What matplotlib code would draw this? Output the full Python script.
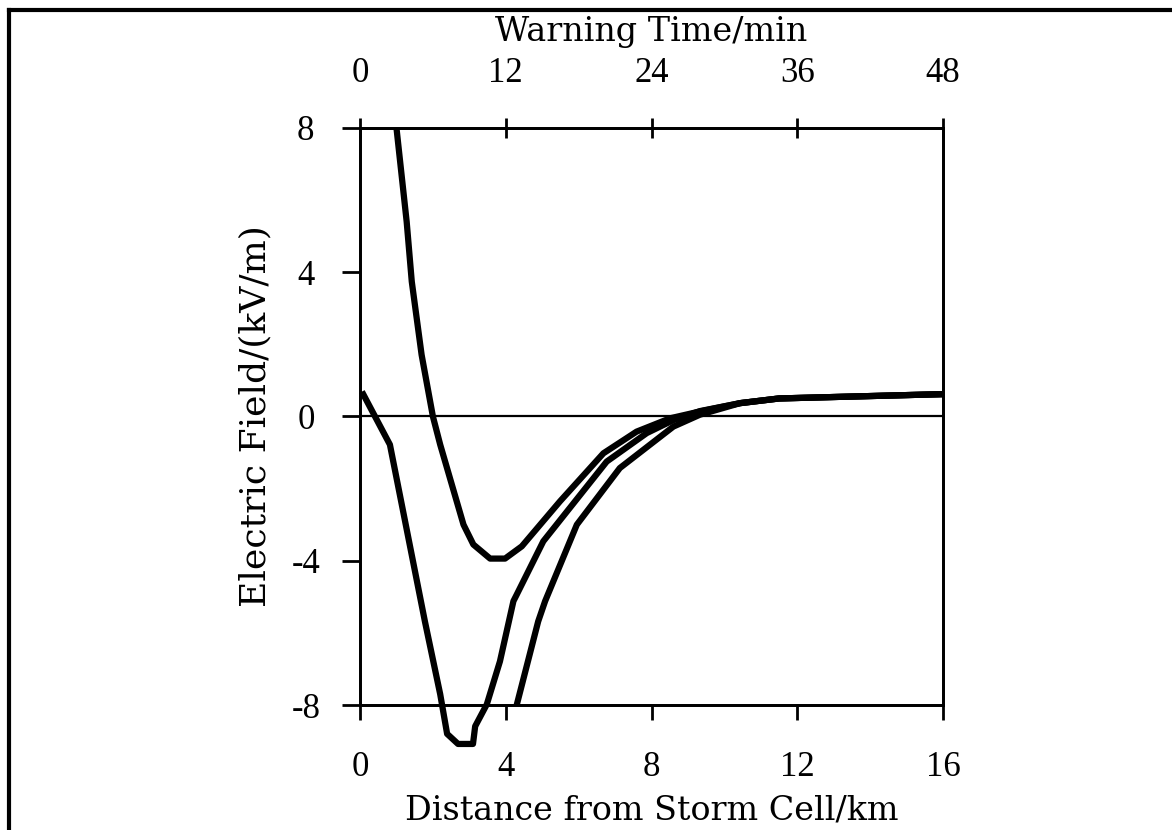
import matplotlib
matplotlib.use("Agg")
import matplotlib.pyplot as plt
from matplotlib.lines import Line2D

# ---- data ----
dist_a = [0.05, 0.82, 1.78, 2.2, 2.39, 2.69, 3.1, 3.16, 3.48, 3.84, 4.21, 4.3, 5.03, 6.77, 7.87, 8.6, 9.33, 10.43, 11.5, 16.0]
field_a = [0.69, -0.78, -5.68, -7.7, -8.8, -9.08, -9.08, -8.59, -7.98, -6.79, -5.12, -4.94, -3.46, -1.25, -0.46, -0.1, 0.15, 0.37, 0.5, 0.62]

dist_b = [1.0, 1.28, 1.42, 1.69, 2.0, 2.2, 2.84, 3.11, 3.57, 3.98, 4.44, 5.49, 6.68, 7.59, 8.51, 9.33, 10.43, 11.5, 16.0]
field_b = [8.0, 5.4, 3.74, 1.71, 0.0, -0.78, -3.0, -3.55, -3.94, -3.94, -3.6, -2.35, -1.02, -0.42, -0.05, 0.14, 0.37, 0.5, 0.62]

dist_c = [4.3, 4.89, 5.08, 5.95, 7.13, 8.6, 9.33, 10.43, 11.5, 16.0]
field_c = [-8.0, -5.68, -5.12, -3.0, -1.43, -0.28, 0.05, 0.37, 0.5, 0.62]

x_ticks = [0, 4, 8, 12, 16]
y_ticks = [-8, -4, 0, 4, 8]
time_ticks = [0, 12, 24, 36, 48]

x_label = "Distance from Storm Cell/km"
y_label = "Electric Field/(kV/m)"
top_label = "Warning Time/min"

LABEL_FONT = "DejaVu Serif"
TICK_FONT = "Liberation Serif"

fig = plt.figure(figsize=(11.72, 8.30), dpi=100)
ax = fig.add_axes([0.3072, 0.1506, 0.4974, 0.6952])

for xs, ys in [(dist_a, field_a), (dist_b, field_b), (dist_c, field_c)]:
    ax.plot(xs, ys, color="black", lw=4.5, solid_joinstyle="round",
            solid_capstyle="butt", clip_on=False, zorder=3)

ax.axhline(0, color="black", lw=1.6, zorder=2)

ax.set_xlim(0, 16)
ax.set_ylim(-8, 8)
ax.set_xticks(x_ticks)
ax.set_yticks(y_ticks)
ax.set_xticklabels([str(v) for v in x_ticks], fontfamily=TICK_FONT, fontsize=25)
ax.set_yticklabels([str(v) for v in y_ticks], fontfamily=TICK_FONT, fontsize=25)
for lab in ax.get_yticklabels():
    lab.set_horizontalalignment("center")

for s in ["left", "bottom", "top", "right"]:
    ax.spines[s].set_linewidth(2.0)

ax.tick_params(axis="x", direction="out", length=11, width=2, pad=22)
ax.tick_params(axis="y", direction="out", length=13, width=2, pad=26)

ax.set_xlabel(x_label, fontfamily=LABEL_FONT, fontsize=24)
ax.xaxis.set_label_coords(0.5, -0.182)
ax.xaxis.label.set_verticalalignment("center")
ax.set_ylabel(y_label, fontfamily=LABEL_FONT, fontsize=26)
ax.yaxis.set_label_coords(-0.18, 0.5)
ax.yaxis.label.set_verticalalignment("center")

top = ax.twiny()
top.set_xlim(0, 48)
top.set_xticks(time_ticks)
top.set_xticklabels([str(v) for v in time_ticks], fontfamily=TICK_FONT, fontsize=25)
top.tick_params(axis="x", direction="inout", length=14, width=2, pad=20)
for s in ["left", "bottom", "top", "right"]:
    top.spines[s].set_linewidth(2.0)
top.set_xlabel(top_label, fontfamily=LABEL_FONT, fontsize=24)
top.xaxis.set_label_coords(0.5, 1.167)
top.xaxis.label.set_verticalalignment("center")

# page frame (top and left edges as in the scan)
fig.add_artist(Line2D([9 / 1172, 1.0], [1 - 10 / 830, 1 - 10 / 830],
                      transform=fig.transFigure, color="black", lw=3))
fig.add_artist(Line2D([9 / 1172, 9 / 1172], [0.0, 1 - 10 / 830],
                      transform=fig.transFigure, color="black", lw=3))

fig.savefig("out.png", dpi=100, facecolor="white")
